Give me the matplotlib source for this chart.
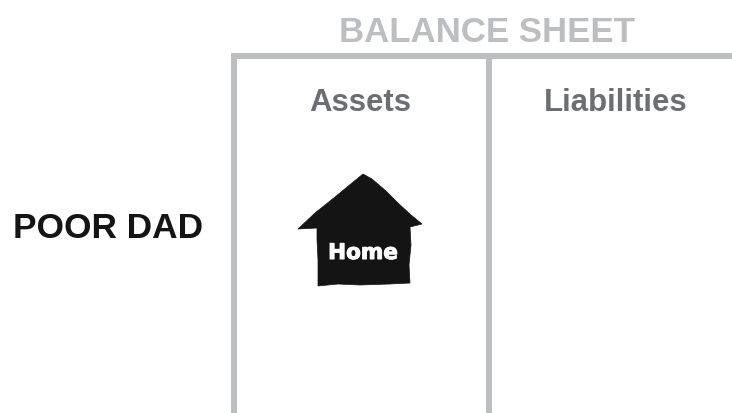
import matplotlib
matplotlib.use('Agg')
import matplotlib.pyplot as plt
import matplotlib.patheffects as pe
from matplotlib.patches import Polygon

plt.rcParams['font.family'] = ['Liberation Sans', 'DejaVu Sans']

TITLE = 'BALANCE SHEET'
ROW_LABEL = 'POOR DAD'
COLUMNS = ['Assets', 'Liabilities']
ITEM = 'Home'

W, H = 732, 413
GREY_LINE = '#bcbec0'
GREY_TEXT = '#6d6e71'
BLACK = '#141414'

fig = plt.figure(figsize=(W / 100, H / 100), dpi=100)
ax = fig.add_axes([0, 0, 1, 1])
ax.set_xlim(0, W)
ax.set_ylim(H, 0)
ax.axis('off')

# T-chart frame, about 6 px wide
LW = 6 * 0.72
ax.plot([233.5, 233.5], [413, 56], color=GREY_LINE, lw=LW, solid_capstyle='butt')
ax.plot([489, 489], [413, 56], color=GREY_LINE, lw=LW, solid_capstyle='butt')
ax.plot([230.5, 732], [56, 56], color=GREY_LINE, lw=LW, solid_capstyle='butt')

# headings
ax.text(487, 42, TITLE, color=GREY_LINE, fontsize=25, fontweight='bold', ha='center', va='baseline')
ax.text(360.5, 111, COLUMNS[0], color=GREY_TEXT, fontsize=22.4, fontweight='bold', ha='center', va='baseline')
ax.text(616, 111, COLUMNS[1], color=GREY_TEXT, fontsize=22.4, fontweight='bold', ha='center', va='baseline')
ax.text(108, 238, ROW_LABEL, color=BLACK, fontsize=25.4, fontweight='bold', ha='center', va='baseline')

# house icon, hand-drawn outline
house = [(363, 174), (372, 179), (386, 191), (398, 203), (411, 215), (422, 224),
         (410, 227), (411, 245), (409, 265), (410, 283), (390, 284), (360, 285),
         (338, 284), (318, 286), (318, 260), (317, 240), (317, 228), (298, 229),
         (315, 213), (335, 197), (352, 183)]
ax.add_patch(Polygon(house, closed=True, facecolor=BLACK, edgecolor=BLACK, lw=0.5))
ax.text(363, 259, ITEM, color='white', fontsize=15.5, fontweight='bold', ha='center', va='baseline',
        family='DejaVu Sans', path_effects=[pe.withStroke(linewidth=0.7, foreground='white')])

fig.savefig('out.png', dpi=100)
